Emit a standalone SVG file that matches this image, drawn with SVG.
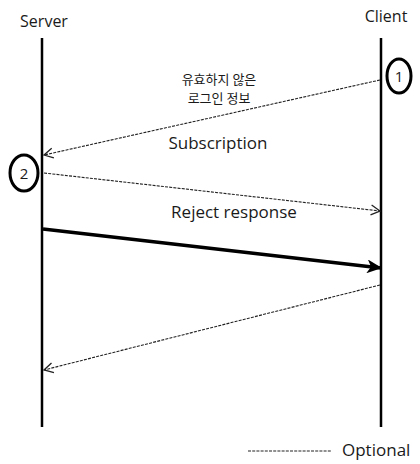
<svg xmlns="http://www.w3.org/2000/svg" width="420" height="464" viewBox="0 0 420 464">
<style>
text{font-family:"Open Sans","Noto Sans CJK KR",sans-serif;fill:#1a1a1a}
.ko{font-family:"Noto Sans CJK KR",sans-serif;font-size:13px}
.life{stroke:#000;stroke-width:2.5}
.dash{stroke:#222;stroke-width:1.1;stroke-dasharray:3,1.2;fill:none}
.bold{stroke:#000;stroke-width:3.5;fill:none}
.circ{fill:none;stroke:#000;stroke-width:3}
</style>
<defs>
<marker id="open" markerWidth="12" markerHeight="12" refX="10" refY="6" orient="auto" markerUnits="userSpaceOnUse">
<path d="M1,1 L10,6 L1,11" fill="none" stroke="#222" stroke-width="1.3"/>
</marker>
<marker id="solid" markerWidth="16" markerHeight="14" refX="14" refY="7" orient="auto" markerUnits="userSpaceOnUse">
<path d="M0,0 L15,7 L0,14 L4,7 Z" fill="#000"/>
</marker>
</defs>
<g id="server">
<text x="44" y="27" font-size="16" text-anchor="middle">Server</text>
<line class="life" x1="42" y1="38" x2="42" y2="427"/>
</g>
<g id="client">
<text x="386" y="22" font-size="16" text-anchor="middle">Client</text>
<line class="life" x1="381" y1="38" x2="381" y2="427"/>
</g>
<g id="step1">
<ellipse class="circ" cx="399" cy="76" rx="12" ry="17"/>
<text x="399" y="82" font-size="15" text-anchor="middle">1</text>
</g>
<g id="step2">
<ellipse class="circ" cx="24" cy="173" rx="14" ry="18"/>
<text x="24" y="179" font-size="15" text-anchor="middle">2</text>
</g>
<g id="connectors">
<line class="dash" x1="380" y1="80" x2="44" y2="155" marker-end="url(#open)"/>
<line class="dash" x1="44" y1="173" x2="380" y2="211" marker-end="url(#open)"/>
<line class="bold" x1="43" y1="229" x2="381" y2="268" marker-end="url(#solid)"/>
<line class="dash" x1="380" y1="285" x2="44" y2="370" marker-end="url(#open)"/>
</g>
<g id="labels">
<text class="ko" x="219" y="84" text-anchor="middle">유효하지 않은</text>
<text class="ko" x="219" y="103" text-anchor="middle">로그인 정보</text>
<text x="218" y="149" font-size="17" text-anchor="middle">Subscription</text>
<text x="234" y="218" font-size="17" text-anchor="middle">Reject response</text>
</g>
<g id="legend">
<line class="dash" x1="248" y1="451" x2="332" y2="451"/>
<text x="342" y="456" font-size="17">Optional</text>
</g>
</svg>
